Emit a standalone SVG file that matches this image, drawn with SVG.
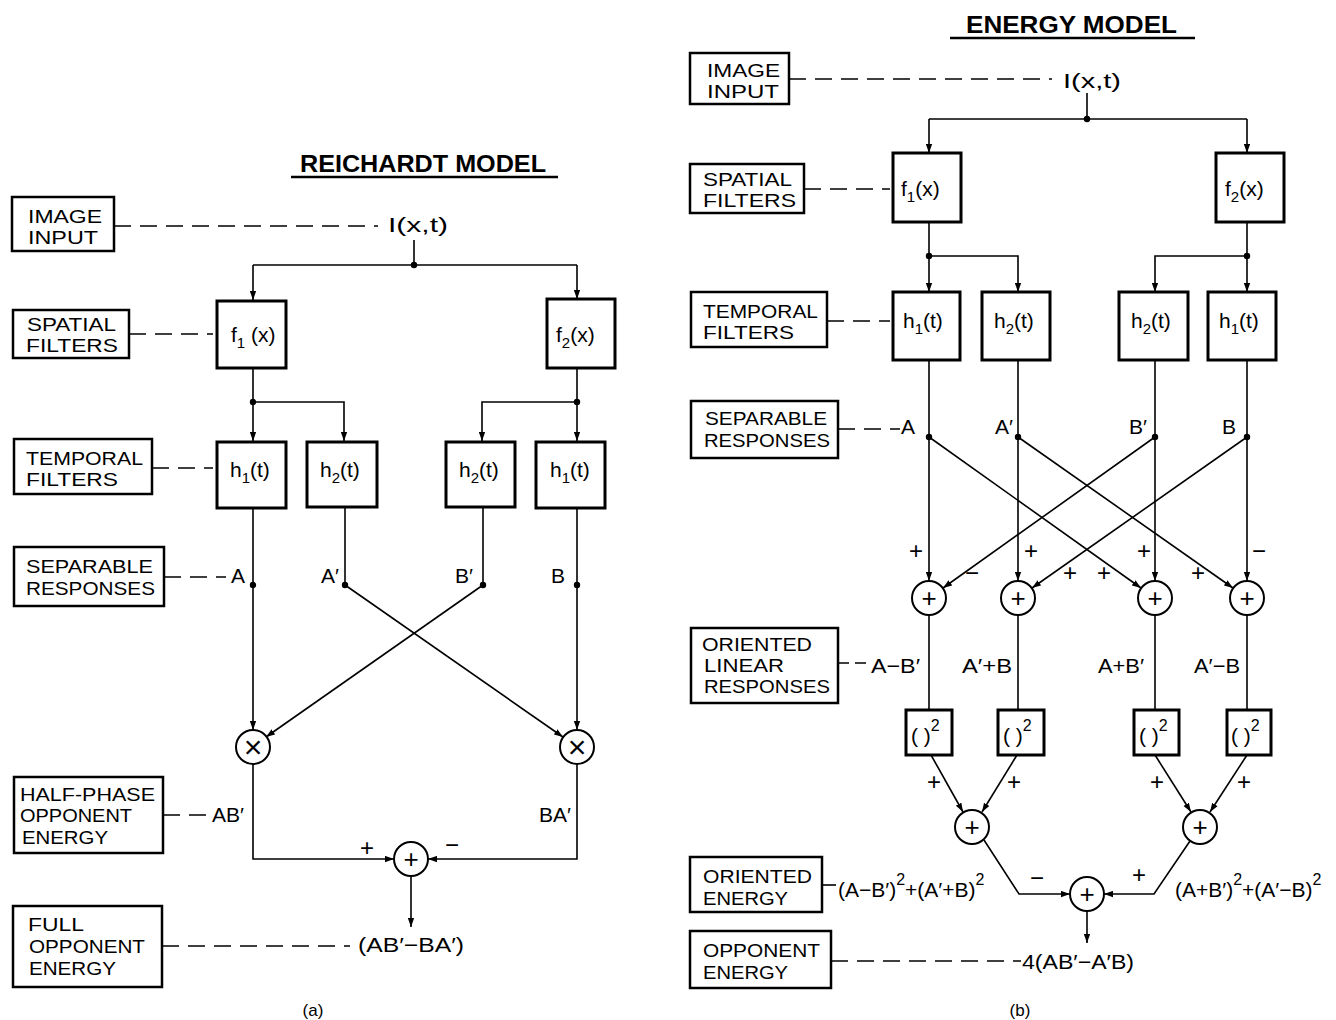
<svg xmlns="http://www.w3.org/2000/svg" width="1336" height="1020" viewBox="0 0 1336 1020">
<defs>
<marker id="ah" viewBox="0 0 10 7" refX="10" refY="3.5" markerWidth="9" markerHeight="7" markerUnits="userSpaceOnUse" orient="auto"><path d="M0,0 L10,3.5 L0,7 z" fill="#000"/></marker>
<style>
text { font-family: "Liberation Sans", Arial, sans-serif; font-size: 21px; fill: #000; }
.bl { font-size: 18.5px; }
.title { font-size: 24px; font-weight: bold; }
.sub { font-size: 15px; }
.sup { font-size: 16px; }
.sgn { font-size: 24px; text-anchor: middle; }
.cap { font-size: 17px; text-anchor: middle; }
.box { fill: #fff; stroke: #000; stroke-width: 2.5; }
.fbox { fill: #fff; stroke: #000; stroke-width: 3; }
.ln { fill: none; stroke: #000; stroke-width: 1.6; }
.arr { fill: none; stroke: #000; stroke-width: 1.6; marker-end: url(#ah); }
.dash { fill: none; stroke: #000; stroke-width: 1.6; stroke-dasharray: 17 9; }
.circ { fill: #fff; stroke: #000; stroke-width: 2; }
.op { font-size: 26px; text-anchor: middle; }
.mul { font-size: 32px; text-anchor: middle; }
.ul { stroke: #000; stroke-width: 2.5; }
</style>
</defs>
<rect width="1336" height="1020" fill="#fff"/>

<!-- ===================== (a) REICHARDT MODEL ===================== -->
<g id="a-title">
<text class="title" x="300" y="172" textLength="246" lengthAdjust="spacingAndGlyphs">REICHARDT MODEL</text>
<line class="ul" x1="291" y1="177" x2="558" y2="177"/>
</g>

<g id="a-connectors">
<line class="dash" x1="114" y1="226" x2="378" y2="226"/>
<line class="ln" x1="414" y1="240" x2="414" y2="265"/>
<line class="ln" x1="253" y1="265" x2="577" y2="265"/>
<line class="arr" x1="253" y1="265" x2="253" y2="300"/>
<line class="arr" x1="577" y1="265" x2="577" y2="299"/>
<line class="dash" x1="129" y1="334" x2="213" y2="334"/>
<line class="ln" x1="253" y1="368" x2="253" y2="402"/>
<line class="arr" x1="253" y1="402" x2="253" y2="441"/>
<polyline class="arr" points="253,402 344,402 344,441"/>
<line class="ln" x1="577" y1="368" x2="577" y2="402"/>
<line class="arr" x1="577" y1="402" x2="577" y2="441"/>
<polyline class="arr" points="577,402 482,402 482,441"/>
<line class="dash" x1="152" y1="468" x2="213" y2="468"/>
<line class="dash" x1="164" y1="577" x2="226" y2="577"/>
<line class="arr" x1="253" y1="508" x2="253" y2="730"/>
<line class="ln" x1="345" y1="507" x2="345" y2="585"/>
<line class="arr" x1="345" y1="585" x2="563" y2="737"/>
<line class="ln" x1="483" y1="507" x2="483" y2="585"/>
<line class="arr" x1="483" y1="585" x2="266" y2="737"/>
<line class="arr" x1="577" y1="508" x2="577" y2="730"/>
<polyline class="arr" points="253,764 253,859 394,859"/>
<polyline class="arr" points="577,764 577,859 428,859"/>
<line class="dash" x1="163" y1="815" x2="210" y2="815"/>
<line class="arr" x1="411" y1="876" x2="411" y2="927"/>
<line class="dash" x1="162" y1="946" x2="350" y2="946"/>
<circle cx="414" cy="265" r="3.2"/>
<circle cx="253" cy="402" r="3.2"/>
<circle cx="577" cy="402" r="3.2"/>
<circle cx="253" cy="585" r="3.2"/>
<circle cx="345" cy="585" r="3.2"/>
<circle cx="483" cy="585" r="3.2"/>
<circle cx="577" cy="585" r="3.2"/>
</g>

<g id="a-image-input">
<rect class="box" x="12" y="197" width="102" height="54"/>
<text class="bl" x="28" y="223" textLength="74" lengthAdjust="spacingAndGlyphs">IMAGE</text>
<text class="bl" x="28" y="244" textLength="70" lengthAdjust="spacingAndGlyphs">INPUT</text>
</g>
<g id="a-ixt"><text x="388" y="232" textLength="60" lengthAdjust="spacingAndGlyphs">I(x,t)</text></g>

<g id="a-spatial-filters">
<rect class="box" x="13" y="310" width="116" height="48"/>
<text class="bl" x="27" y="331" textLength="89" lengthAdjust="spacingAndGlyphs">SPATIAL</text>
<text class="bl" x="26" y="352" textLength="92" lengthAdjust="spacingAndGlyphs">FILTERS</text>
</g>
<g id="a-f1">
<rect class="fbox" x="217" y="301" width="69" height="67"/>
<text x="231" y="342">f<tspan class="sub" dy="6">1</tspan><tspan dy="-6"> (x)</tspan></text>
</g>
<g id="a-f2">
<rect class="fbox" x="547" y="299" width="68" height="69"/>
<text x="556" y="342">f<tspan class="sub" dy="6">2</tspan><tspan dy="-6">(x)</tspan></text>
</g>

<g id="a-temporal-filters">
<rect class="box" x="14" y="439" width="138" height="55"/>
<text class="bl" x="26" y="465" textLength="117" lengthAdjust="spacingAndGlyphs">TEMPORAL</text>
<text class="bl" x="26" y="486" textLength="92" lengthAdjust="spacingAndGlyphs">FILTERS</text>
</g>
<g id="a-h1-left">
<rect class="fbox" x="217" y="442" width="69" height="66"/>
<text x="230" y="477">h<tspan class="sub" dy="6">1</tspan><tspan dy="-6">(t)</tspan></text>
</g>
<g id="a-h2-left">
<rect class="fbox" x="307" y="442" width="70" height="65"/>
<text x="320" y="477">h<tspan class="sub" dy="6">2</tspan><tspan dy="-6">(t)</tspan></text>
</g>
<g id="a-h2-right">
<rect class="fbox" x="446" y="442" width="69" height="65"/>
<text x="459" y="477">h<tspan class="sub" dy="6">2</tspan><tspan dy="-6">(t)</tspan></text>
</g>
<g id="a-h1-right">
<rect class="fbox" x="536" y="442" width="69" height="66"/>
<text x="550" y="477">h<tspan class="sub" dy="6">1</tspan><tspan dy="-6">(t)</tspan></text>
</g>

<g id="a-separable-responses">
<rect class="box" x="14" y="547" width="150" height="59"/>
<text class="bl" x="26" y="573" textLength="127" lengthAdjust="spacingAndGlyphs">SEPARABLE</text>
<text class="bl" x="26" y="595" textLength="129" lengthAdjust="spacingAndGlyphs">RESPONSES</text>
</g>
<g id="a-signals">
<text x="231" y="583">A</text>
<text x="321" y="583">A′</text>
<text x="455" y="583">B′</text>
<text x="551" y="583">B</text>
</g>

<g id="a-mult-left"><circle class="circ" cx="253" cy="747" r="17"/><text class="mul" x="253" y="758">×</text></g>
<g id="a-mult-right"><circle class="circ" cx="577" cy="747" r="17"/><text class="mul" x="577" y="758">×</text></g>

<g id="a-half-phase">
<rect class="box" x="14" y="777" width="149" height="76"/>
<text class="bl" x="20" y="801" textLength="135" lengthAdjust="spacingAndGlyphs">HALF-PHASE</text>
<text class="bl" x="20" y="822" textLength="112" lengthAdjust="spacingAndGlyphs">OPPONENT</text>
<text class="bl" x="22" y="844" textLength="86" lengthAdjust="spacingAndGlyphs">ENERGY</text>
</g>
<g id="a-products">
<text x="212" y="822">AB′</text>
<text x="539" y="822">BA′</text>
<text class="sgn" x="367" y="856">+</text>
<text class="sgn" x="452" y="853">−</text>
</g>
<g id="a-sum"><circle class="circ" cx="411" cy="859" r="17"/><text class="op" x="411" y="868">+</text></g>

<g id="a-full-opponent">
<rect class="box" x="13" y="906" width="149" height="81"/>
<text class="bl" x="28" y="931" textLength="56" lengthAdjust="spacingAndGlyphs">FULL</text>
<text class="bl" x="29" y="953" textLength="116" lengthAdjust="spacingAndGlyphs">OPPONENT</text>
<text class="bl" x="29" y="975" textLength="87" lengthAdjust="spacingAndGlyphs">ENERGY</text>
</g>
<g id="a-result"><text x="358" y="952" textLength="106" lengthAdjust="spacingAndGlyphs">(AB′−BA′)</text></g>
<text class="cap" x="313" y="1016">(a)</text>

<!-- ===================== (b) ENERGY MODEL ===================== -->
<g id="b-title">
<text class="title" x="966" y="33" textLength="211" lengthAdjust="spacingAndGlyphs">ENERGY MODEL</text>
<line class="ul" x1="950" y1="38" x2="1195" y2="38"/>
</g>

<g id="b-connectors">
<line class="dash" x1="789" y1="79" x2="1052" y2="79"/>
<line class="ln" x1="1087" y1="93" x2="1087" y2="119"/>
<line class="ln" x1="929" y1="119" x2="1247" y2="119"/>
<line class="arr" x1="929" y1="119" x2="929" y2="153"/>
<line class="arr" x1="1247" y1="119" x2="1247" y2="153"/>
<line class="dash" x1="804" y1="189" x2="890" y2="189"/>
<line class="ln" x1="929" y1="222" x2="929" y2="256"/>
<line class="arr" x1="929" y1="256" x2="929" y2="292"/>
<polyline class="arr" points="929,256 1018,256 1018,292"/>
<line class="ln" x1="1247" y1="222" x2="1247" y2="256"/>
<line class="arr" x1="1247" y1="256" x2="1247" y2="292"/>
<polyline class="arr" points="1247,256 1155,256 1155,292"/>
<line class="dash" x1="827" y1="321" x2="890" y2="321"/>
<line class="dash" x1="838" y1="429" x2="900" y2="429"/>
<line class="arr" x1="929" y1="360" x2="929" y2="581"/>
<line class="arr" x1="1018" y1="360" x2="1018" y2="581"/>
<line class="arr" x1="1155" y1="360" x2="1155" y2="581"/>
<line class="arr" x1="1247" y1="360" x2="1247" y2="581"/>
<line class="arr" x1="929" y1="437" x2="1141" y2="588"/>
<line class="arr" x1="1018" y1="437" x2="1233" y2="588"/>
<line class="arr" x1="1155" y1="437" x2="943" y2="588"/>
<line class="arr" x1="1247" y1="437" x2="1032" y2="588"/>
<line class="ln" x1="929" y1="615" x2="929" y2="710"/>
<line class="ln" x1="1018" y1="615" x2="1018" y2="710"/>
<line class="ln" x1="1155" y1="615" x2="1155" y2="710"/>
<line class="ln" x1="1247" y1="615" x2="1247" y2="710"/>
<line class="dash" x1="838" y1="663" x2="870" y2="663" style="stroke-dasharray:11 6"/>
<line class="arr" x1="931" y1="755" x2="963" y2="812"/>
<line class="arr" x1="1017" y1="755" x2="982" y2="812"/>
<line class="arr" x1="1155" y1="755" x2="1191" y2="812"/>
<line class="arr" x1="1247" y1="755" x2="1210" y2="812"/>
<polyline class="arr" points="984,840 1019,894 1070,894"/>
<polyline class="arr" points="1190,841 1154,894 1104,894"/>
<line class="ln" x1="822" y1="885" x2="836" y2="885"/>
<line class="arr" x1="1087" y1="911" x2="1087" y2="943"/>
<line class="dash" x1="831" y1="961" x2="1021" y2="961"/>
<circle cx="1087" cy="119" r="3.2"/>
<circle cx="929" cy="256" r="3.2"/>
<circle cx="1247" cy="256" r="3.2"/>
<circle cx="929" cy="437" r="3.2"/>
<circle cx="1018" cy="437" r="3.2"/>
<circle cx="1155" cy="437" r="3.2"/>
<circle cx="1247" cy="437" r="3.2"/>
</g>

<g id="b-image-input">
<rect class="box" x="690" y="53" width="99" height="51"/>
<text class="bl" x="707" y="77" textLength="73" lengthAdjust="spacingAndGlyphs">IMAGE</text>
<text class="bl" x="707" y="98" textLength="72" lengthAdjust="spacingAndGlyphs">INPUT</text>
</g>
<g id="b-ixt"><text x="1063" y="88" textLength="58" lengthAdjust="spacingAndGlyphs">I(x,t)</text></g>

<g id="b-spatial-filters">
<rect class="box" x="690" y="164" width="114" height="49"/>
<text class="bl" x="703" y="186" textLength="89" lengthAdjust="spacingAndGlyphs">SPATIAL</text>
<text class="bl" x="703" y="207" textLength="93" lengthAdjust="spacingAndGlyphs">FILTERS</text>
</g>
<g id="b-f1">
<rect class="fbox" x="893" y="153" width="68" height="69"/>
<text x="901" y="196">f<tspan class="sub" dy="6">1</tspan><tspan dy="-6">(x)</tspan></text>
</g>
<g id="b-f2">
<rect class="fbox" x="1216" y="153" width="68" height="69"/>
<text x="1225" y="196">f<tspan class="sub" dy="6">2</tspan><tspan dy="-6">(x)</tspan></text>
</g>

<g id="b-temporal-filters">
<rect class="box" x="691" y="292" width="136" height="55"/>
<text class="bl" x="703" y="318" textLength="115" lengthAdjust="spacingAndGlyphs">TEMPORAL</text>
<text class="bl" x="703" y="339" textLength="91" lengthAdjust="spacingAndGlyphs">FILTERS</text>
</g>
<g id="b-h1-a">
<rect class="fbox" x="893" y="292" width="67" height="68"/>
<text x="903" y="328">h<tspan class="sub" dy="6">1</tspan><tspan dy="-6">(t)</tspan></text>
</g>
<g id="b-h2-a">
<rect class="fbox" x="982" y="292" width="68" height="68"/>
<text x="994" y="328">h<tspan class="sub" dy="6">2</tspan><tspan dy="-6">(t)</tspan></text>
</g>
<g id="b-h2-b">
<rect class="fbox" x="1119" y="292" width="69" height="68"/>
<text x="1131" y="328">h<tspan class="sub" dy="6">2</tspan><tspan dy="-6">(t)</tspan></text>
</g>
<g id="b-h1-b">
<rect class="fbox" x="1208" y="292" width="68" height="68"/>
<text x="1219" y="328">h<tspan class="sub" dy="6">1</tspan><tspan dy="-6">(t)</tspan></text>
</g>

<g id="b-separable-responses">
<rect class="box" x="691" y="401" width="147" height="57"/>
<text class="bl" x="705" y="425" textLength="122" lengthAdjust="spacingAndGlyphs">SEPARABLE</text>
<text class="bl" x="704" y="447" textLength="126" lengthAdjust="spacingAndGlyphs">RESPONSES</text>
</g>
<g id="b-signals">
<text x="901" y="434">A</text>
<text x="995" y="434">A′</text>
<text x="1129" y="434">B′</text>
<text x="1222" y="434">B</text>
</g>
<g id="b-signs1">
<text class="sgn" x="916" y="559">+</text>
<text class="sgn" x="972" y="581">−</text>
<text class="sgn" x="1031" y="559">+</text>
<text class="sgn" x="1070" y="581">+</text>
<text class="sgn" x="1104" y="581">+</text>
<text class="sgn" x="1144" y="559">+</text>
<text class="sgn" x="1198" y="581">+</text>
<text class="sgn" x="1259" y="559">−</text>
</g>
<g id="b-sum1"><circle class="circ" cx="929" cy="598" r="17"/><text class="op" x="929" y="607">+</text></g>
<g id="b-sum2"><circle class="circ" cx="1018" cy="598" r="17"/><text class="op" x="1018" y="607">+</text></g>
<g id="b-sum3"><circle class="circ" cx="1155" cy="598" r="17"/><text class="op" x="1155" y="607">+</text></g>
<g id="b-sum4"><circle class="circ" cx="1247" cy="598" r="17"/><text class="op" x="1247" y="607">+</text></g>

<g id="b-oriented-linear">
<rect class="box" x="691" y="628" width="147" height="75"/>
<text class="bl" x="702" y="651" textLength="110" lengthAdjust="spacingAndGlyphs">ORIENTED</text>
<text class="bl" x="704" y="672" textLength="80" lengthAdjust="spacingAndGlyphs">LINEAR</text>
<text class="bl" x="704" y="693" textLength="126" lengthAdjust="spacingAndGlyphs">RESPONSES</text>
</g>
<g id="b-linear-labels">
<text x="871" y="673" textLength="49" lengthAdjust="spacingAndGlyphs">A−B′</text>
<text x="962" y="673" textLength="50" lengthAdjust="spacingAndGlyphs">A′+B</text>
<text x="1098" y="673" textLength="46" lengthAdjust="spacingAndGlyphs">A+B′</text>
<text x="1194" y="673" textLength="46" lengthAdjust="spacingAndGlyphs">A′−B</text>
</g>

<g id="b-sq1"><rect class="fbox" x="906" y="710" width="46" height="45"/><text x="911" y="743">( )<tspan class="sup" dy="-12">2</tspan></text></g>
<g id="b-sq2"><rect class="fbox" x="998" y="710" width="46" height="45"/><text x="1003" y="743">( )<tspan class="sup" dy="-12">2</tspan></text></g>
<g id="b-sq3"><rect class="fbox" x="1134" y="710" width="45" height="45"/><text x="1139" y="743">( )<tspan class="sup" dy="-12">2</tspan></text></g>
<g id="b-sq4"><rect class="fbox" x="1227" y="710" width="44" height="45"/><text x="1231" y="743">( )<tspan class="sup" dy="-12">2</tspan></text></g>

<g id="b-signs2">
<text class="sgn" x="934" y="790">+</text>
<text class="sgn" x="1014" y="790">+</text>
<text class="sgn" x="1157" y="790">+</text>
<text class="sgn" x="1244" y="790">+</text>
<text class="sgn" x="1037" y="886">−</text>
<text class="sgn" x="1139" y="883">+</text>
</g>
<g id="b-sumL"><circle class="circ" cx="972" cy="827" r="17"/><text class="op" x="972" y="836">+</text></g>
<g id="b-sumR"><circle class="circ" cx="1200" cy="827" r="17"/><text class="op" x="1200" y="836">+</text></g>

<g id="b-oriented-energy">
<rect class="box" x="690" y="857" width="132" height="55"/>
<text class="bl" x="703" y="883" textLength="109" lengthAdjust="spacingAndGlyphs">ORIENTED</text>
<text class="bl" x="703" y="905" textLength="85" lengthAdjust="spacingAndGlyphs">ENERGY</text>
</g>
<g id="b-energy-labels">
<text x="838" y="897">(A−B′)<tspan class="sup" dy="-12">2</tspan><tspan dy="12">+(A′+B)</tspan><tspan class="sup" dy="-12">2</tspan></text>
<text x="1175" y="897">(A+B′)<tspan class="sup" dy="-12">2</tspan><tspan dy="12">+(A′−B)</tspan><tspan class="sup" dy="-12">2</tspan></text>
</g>
<g id="b-sumF"><circle class="circ" cx="1087" cy="894" r="17"/><text class="op" x="1087" y="903">+</text></g>

<g id="b-opponent-energy">
<rect class="box" x="690" y="931" width="141" height="57"/>
<text class="bl" x="703" y="957" textLength="117" lengthAdjust="spacingAndGlyphs">OPPONENT</text>
<text class="bl" x="703" y="979" textLength="85" lengthAdjust="spacingAndGlyphs">ENERGY</text>
</g>
<g id="b-result"><text x="1022" y="969" textLength="112" lengthAdjust="spacingAndGlyphs">4(AB′−A′B)</text></g>
<text class="cap" x="1020" y="1016">(b)</text>
</svg>
